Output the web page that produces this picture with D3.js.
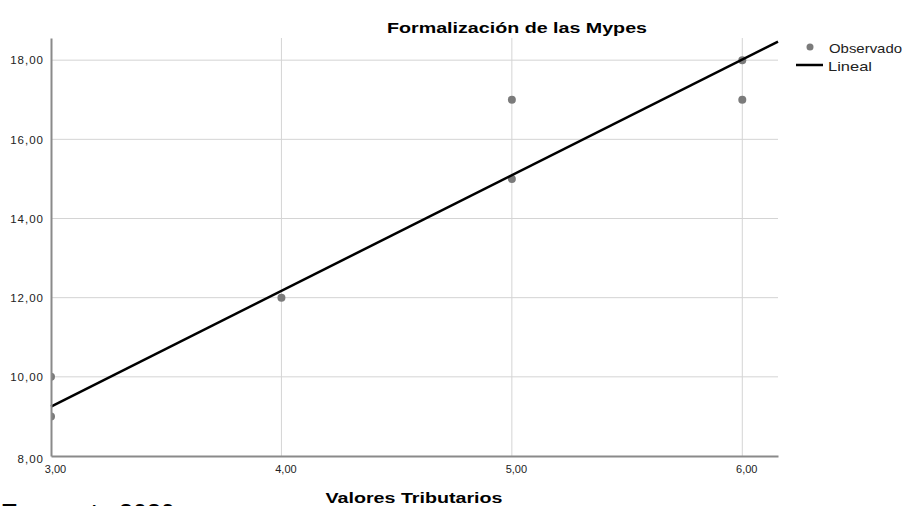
<!DOCTYPE html>
<html>
  <head>
    <meta charset="utf-8" />
    <title>Formalización de las Mypes</title>
    <script src="https://d3js.org/d3.v7.min.js"></script>
    <style>
      body { margin: 0; background: #fff; }
      text { font-family: "Liberation Sans", Arial, sans-serif; }
    </style>
  </head>
  <body>
    <script>
      // observed points
      let obsX = [3, 3, 4, 5, 5, 6, 6];
      let obsY = [9, 10, 12, 15, 17, 17, 18];
      // linear fit line, read at both ends
      let fitX = [3.0, 6.155];
      let fitY = [9.25, 18.47];
      let xTicks = [3, 4, 5, 6];
      let yTicks = [8, 10, 12, 14, 16, 18];

      let width = 906;
      let height = 506;
      let svg = d3.select("body").append("svg")
        .attr("width", width)
        .attr("height", height);

      let x = d3.scaleLinear().domain([3, 6.155]).range([51, 778]);
      let y = d3.scaleLinear().domain([8, 18.56]).range([456, 38]);
      let fmt = (d) => d.toFixed(2).replace(".", ",");

      // clip for the plot area
      svg.append("clipPath").attr("id", "plotclip")
        .append("rect")
        .attr("x", 51).attr("y", 38)
        .attr("width", 727).attr("height", 418);

      // grid lines
      svg.append("g")
        .selectAll("line")
        .data(yTicks.slice(1))
        .join("line")
        .attr("x1", 51).attr("x2", 778)
        .attr("y1", (d) => y(d)).attr("y2", (d) => y(d))
        .attr("stroke", "#d4d4d4").attr("stroke-width", 1);
      svg.append("g")
        .selectAll("line")
        .data(xTicks.slice(1))
        .join("line")
        .attr("x1", (d) => x(d)).attr("x2", (d) => x(d))
        .attr("y1", 38).attr("y2", 456)
        .attr("stroke", "#d4d4d4").attr("stroke-width", 1);

      // observed points (clipped, axis drawn over them)
      let pts = obsX.map((d, i) => ({ x: d, y: obsY[i] }));
      svg.append("g")
        .attr("clip-path", "url(#plotclip)")
        .selectAll("circle")
        .data(pts)
        .join("circle")
        .attr("cx", (d) => x(d.x))
        .attr("cy", (d) => y(d.y))
        .attr("r", 4)
        .attr("fill", "#7b7b7b");

      // fit line
      let line = d3.line().x((d) => x(d[0])).y((d) => y(d[1]));
      svg.append("path")
        .datum(fitX.map((d, i) => [d, fitY[i]]))
        .attr("d", line)
        .attr("fill", "none")
        .attr("stroke", "#000")
        .attr("stroke-width", 2.5);

      // axes
      let yAxis = svg.append("g")
        .attr("transform", "translate(51,0)")
        .call(d3.axisLeft(y).tickValues(yTicks).tickFormat(fmt).tickSize(0).tickPadding(7));
      yAxis.select(".domain").attr("stroke", "#8a8a8a").attr("stroke-width", 2);
      yAxis.selectAll("text").attr("font-size", 11.5).attr("fill", "#222")
        .attr("font-family", "Liberation Sans, Arial, sans-serif")
        .attr("letter-spacing", 1)
        .attr("dy", (d) => (d === 8 ? "0.6em" : "0.32em"));

      let xAxis = svg.append("g")
        .attr("transform", "translate(0,456)")
        .call(d3.axisBottom(x).tickValues(xTicks).tickFormat(fmt).tickSize(0).tickPadding(9));
      xAxis.select(".domain").attr("stroke", "#8a8a8a").attr("stroke-width", 2);
      xAxis.selectAll("text").attr("font-size", 11).attr("fill", "#222")
        .attr("font-family", "Liberation Sans, Arial, sans-serif")
        .attr("dx", 4);

      // title and axis title
      svg.append("text")
        .attr("x", 517).attr("y", 33)
        .attr("text-anchor", "middle")
        .attr("font-size", 15.5).attr("font-weight", "bold")
        .attr("textLength", 260).attr("lengthAdjust", "spacingAndGlyphs")
        .text("Formalización de las Mypes");
      svg.append("text")
        .attr("x", 414).attr("y", 503)
        .attr("text-anchor", "middle")
        .attr("font-size", 15.5).attr("font-weight", "bold")
        .attr("textLength", 177).attr("lengthAdjust", "spacingAndGlyphs")
        .text("Valores Tributarios");

      // legend
      svg.append("circle").attr("cx", 810).attr("cy", 47).attr("r", 3.5).attr("fill", "#7b7b7b");
      svg.append("text").attr("x", 829).attr("y", 52.5).attr("font-size", 13).attr("fill", "#222")
        .attr("textLength", 73).attr("lengthAdjust", "spacingAndGlyphs")
        .text("Observado");
      svg.append("line").attr("x1", 796).attr("x2", 823).attr("y1", 65).attr("y2", 65)
        .attr("stroke", "#000").attr("stroke-width", 2.5);
      svg.append("text").attr("x", 828).attr("y", 70.5).attr("font-size", 13).attr("fill", "#222")
        .attr("textLength", 44).attr("lengthAdjust", "spacingAndGlyphs")
        .text("Lineal");

      // source note, cut off at the bottom edge as in the reference
      svg.append("text")
        .attr("x", 1).attr("y", 522)
        .attr("font-size", 25).attr("font-weight", "bold")
        .text("Encuesta 2020");
    </script>
  </body>
</html>
